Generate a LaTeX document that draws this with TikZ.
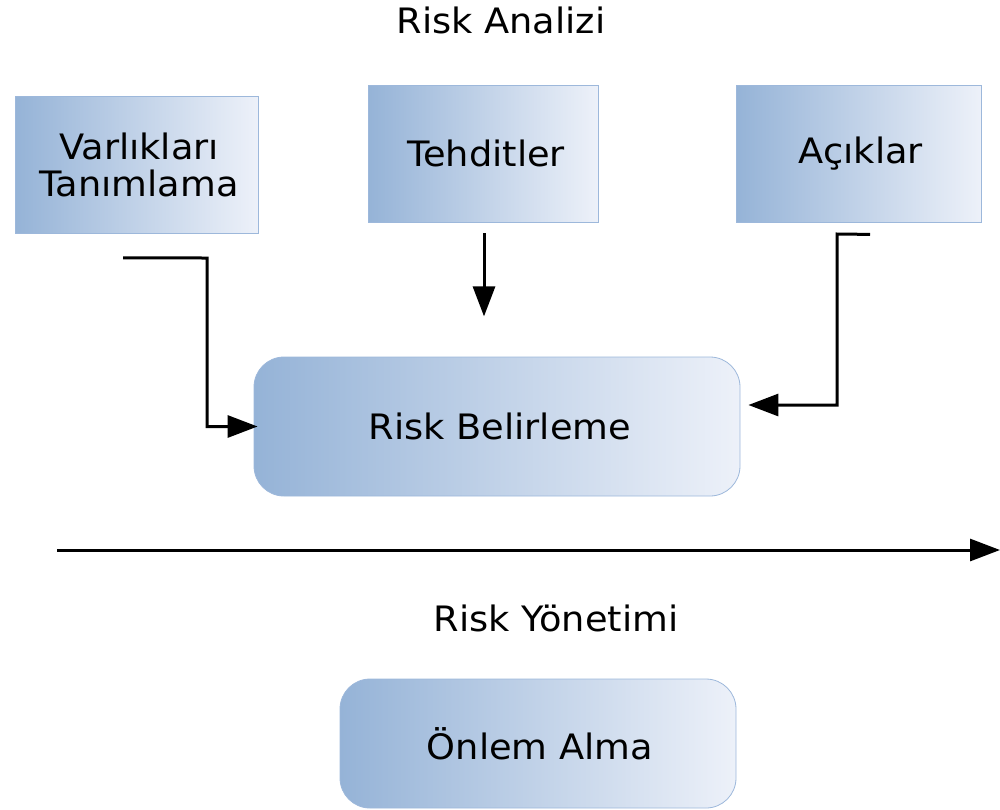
\documentclass[tikz,border=0pt]{standalone}
\usepackage{fontspec}
\setmainfont{DejaVu Sans}[FakeStretch=1.05]
\usetikzlibrary{arrows.meta}
\definecolor{gl}{HTML}{95B3D7}
\definecolor{gr}{HTML}{EDF1F9}
\definecolor{bd}{HTML}{9DB8DB}
\tikzset{
  box/.style={draw=bd, line width=0.8pt, left color=gl, right color=gr, minimum width=#1, inner sep=0pt, align=center, font=\fontsize{35}{37}\selectfont},
  rbox/.style={box=#1, rounded corners=30pt},
  lbl/.style={font=\fontsize{35}{37}\selectfont, inner sep=0pt},
  conn/.style={line width=3pt, -{Triangle[length=30pt,width=22pt]}}
}
\begin{document}
\begin{tikzpicture}[x=1pt,y=-1pt]
\useasboundingbox (0,0) rectangle (1000,809);
\node[lbl] (ra) at (501,20) {Risk Analizi};
\node[box=243pt, minimum height=137pt] (vt) at (136.5,164.5) {\hspace*{5pt}Varlıkları\\\hspace*{5pt}Tanımlama};
\node[box=230pt, minimum height=137pt] (te) at (483,153.5) {\hspace*{6pt}Tehditler};
\node[box=245pt, minimum height=137pt] (ac) at (858.5,153.5) {\hspace*{5pt}Açıklar};
\node[rbox=486pt, minimum height=139pt] (rb) at (497,426.5) {\hspace*{6pt}Risk Belirleme};
\node[lbl] (ry) at (556,618) {Risk Yönetimi};
\node[rbox=396pt, minimum height=129pt] (oa) at (538,743.5) {\hspace*{4pt}Önlem Alma};
% connector endpoints
\coordinate (vts) at ([xshift=-13.5pt,yshift=-24.5pt]vt.south);
\coordinate (tes) at ([xshift=1pt,yshift=-11pt]te.south);
\coordinate (tee) at ([xshift=1pt,yshift=-94pt]te.south);
\coordinate (acs) at ([xshift=11.5pt,yshift=-12pt]ac.south);
\coordinate (rbr) at ([xshift=8pt,yshift=21.5pt]rb.east);
\coordinate (rbl) at ([xshift=4pt]rb.west);
\coordinate (hs) at (57,550);
\coordinate (he) at (1000,550);
\draw[conn] (vts) -- (207,258) |- (rbl);
\draw[conn] (tes) -- (tee);
\draw[conn] (acs) -- (837,234) |- (rbr);
\draw[conn] (hs) -- (he);
\end{tikzpicture}
\end{document}
